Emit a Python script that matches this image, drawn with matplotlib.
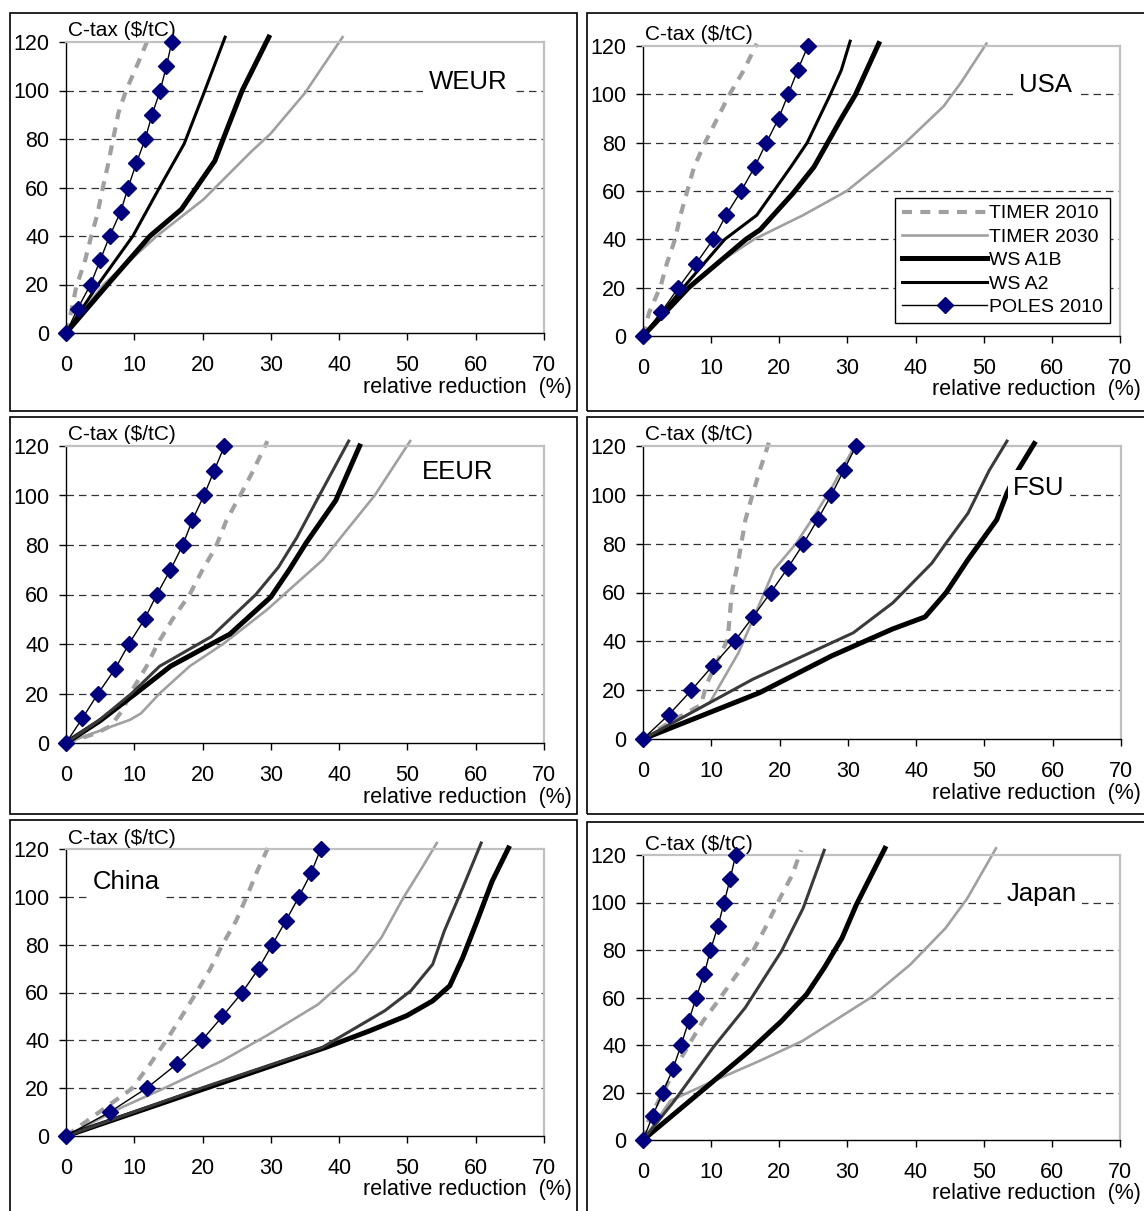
import matplotlib
matplotlib.use("Agg")
import matplotlib.pyplot as plt
from matplotlib.patches import Rectangle

plt.rcParams['font.family'] = ['Liberation Sans', 'DejaVu Sans']

W, H = 1144, 1211

series_names = ['TIMER 2010', 'TIMER 2030', 'WS A1B', 'WS A2', 'POLES 2010']
poles_tax = [0, 10, 20, 30, 40, 50, 60, 70, 80, 90, 100, 110, 120]
grid_levels = [20, 40, 60, 80, 100]

# (relative reduction %, C-tax $/tC) pairs
weur_t2010 = [(0, 0), (0.7, 8), (1.5, 19), (2.8, 30), (3.7, 40), (4.6, 49), (5.4, 60), (6.2, 70),
              (6.9, 80), (7.7, 91), (8.8, 100), (10.5, 111), (12.0, 121)]
weur_t2030 = [(0, 0), (5.5, 20), (13.3, 40), (20.1, 55), (27.2, 75), (29.9, 82), (35.0, 99), (40.5, 122)]
weur_a1b = [(0, 0), (6.1, 20), (12.3, 40), (16.9, 51), (19.1, 60), (21.8, 71), (23.3, 82), (25.8, 100), (29.7, 122)]
weur_a2 = [(0, 0), (4.7, 20), (9.8, 40), (13.7, 60), (17.3, 78), (20.2, 99), (23.3, 122)]
weur_poles = [0, 1.7, 3.6, 5.0, 6.4, 8.0, 9.1, 10.3, 11.6, 12.6, 13.8, 14.7, 15.5]

usa_t2010 = [(0, 0), (0.9, 9.7), (2.6, 20.7), (3.5, 30), (4.7, 40), (5.5, 50), (6.4, 59), (7.5, 70),
             (9.1, 80), (10.9, 90), (12.7, 100), (14.8, 110), (16.7, 121)]
usa_t2030 = [(0, 0), (6.7, 20), (10.9, 30), (16.3, 40), (23.5, 50), (29.9, 60), (34.3, 70), (38.5, 80),
             (44.1, 95), (46.7, 105), (50.4, 121)]
usa_a1b = [(0, 0), (6.7, 20), (15.1, 40), (17.2, 44), (22.0, 59), (25.1, 70), (29.1, 90), (31.2, 100), (34.6, 121)]
usa_a2 = [(0, 0), (5.9, 20), (12.0, 40), (16.7, 50), (21.7, 70), (24.1, 80), (27.5, 100), (29.1, 110), (30.4, 122)]
usa_poles = [0, 2.7, 5.2, 7.8, 10.3, 12.2, 14.4, 16.4, 18.1, 19.9, 21.3, 22.7, 24.2]

eeur_t2010 = [(0, 0), (4.5, 4), (6.6, 7), (8.3, 13.4), (9.4, 20), (11.8, 31), (13.4, 40), (15.6, 50),
              (18.1, 60), (20.0, 70), (21.9, 79), (23.5, 90), (25.7, 101), (27.4, 110), (29.5, 122)]
eeur_t2030 = [(0, 0), (5, 5), (9.4, 9.4), (11.0, 12), (13.7, 20), (18.1, 31), (23.0, 40), (29.5, 54),
              (37.6, 74), (45.2, 100), (50.4, 122)]
eeur_a1b = [(0, 0), (5, 9), (10.2, 20), (15.3, 31), (21.3, 40), (24.0, 44), (30.0, 59), (32.7, 70),
            (35.2, 81), (39.5, 98), (43.0, 120)]
eeur_a2 = [(0, 0), (5, 9.5), (9.6, 20), (13.7, 31), (21.3, 43), (27.8, 60), (31.1, 71), (33.8, 83),
           (37.1, 100), (41.4, 122)]
eeur_poles = [0, 2.4, 4.7, 7.2, 9.2, 11.5, 13.3, 15.3, 17.1, 18.5, 20.2, 21.7, 23.2]

fsu_t2010 = [(0, 0), (4, 7), (8.5, 14), (9.3, 22.4), (12.4, 40.8), (13.0, 59.9), (14.0, 73.5),
             (15.0, 89.8), (16.1, 100.7), (17.1, 110), (18.5, 122)]
fsu_t2030 = [(0, 0), (9.8, 15), (14.0, 35.4), (16.1, 49), (19.2, 69.4), (22.4, 80), (25.0, 91),
             (27.6, 102.7), (31.0, 120)]
fsu_a1b = [(0, 0), (17.1, 19), (27.6, 34), (36.5, 45), (41.3, 50), (44.4, 60), (47.6, 73.5),
           (51.8, 89.8), (53.3, 100.7), (54.9, 110), (57.3, 121)]
fsu_a2 = [(0, 0), (16.1, 24.5), (30.8, 43.5), (36.6, 55.8), (42.3, 72), (44.4, 80.3), (47.6, 92.5),
          (50.7, 110), (53.3, 122)]
fsu_poles = [0, 3.8, 7.1, 10.2, 13.4, 16.1, 18.7, 21.2, 23.5, 25.6, 27.6, 29.4, 31.2]

china_t2010 = [(0, 0), (9.6, 19.7), (12.3, 30), (14.7, 40), (17.0, 50.3), (19.1, 60), (21.1, 69.7),
               (22.9, 80), (24.9, 89.9), (26.6, 101), (28.1, 111.4), (29.8, 121.8)]
china_t2030 = [(0, 0), (8.2, 12), (14.7, 20.4), (22.9, 31.5), (29.4, 42), (36.9, 55), (42.4, 69),
               (46.2, 83), (49.4, 99.6), (52.1, 112), (54.3, 122.5)]
china_a1b = [(0, 0), (20.2, 19.7), (38.0, 37), (44.5, 44), (49.9, 50.3), (53.7, 56.5), (56.2, 62.8),
             (58.1, 74.6), (60.2, 89.9), (62.4, 106.5), (64.8, 120.4)]
china_a2 = [(0, 0), (20.2, 20.4), (37.5, 37), (46.7, 52.4), (50.5, 60.7), (53.7, 71.8), (55.4, 85.7),
            (58.1, 103.8), (60.8, 122.5)]
china_poles = [0, 6.4, 11.8, 16.2, 19.9, 22.9, 25.8, 28.2, 30.2, 32.2, 34.1, 35.9, 37.3]

japan_t2010 = [(0, 0), (0.9, 8.8), (5.1, 32), (6.7, 40), (8.8, 50), (11.0, 58.5), (13.6, 69),
               (16.1, 79.4), (18.2, 90.7), (20.1, 101.8), (21.9, 111.6), (23.2, 122)]
japan_t2030 = [(0, 0), (4.0, 16.5), (9.3, 23.5), (17.1, 33.3), (23.4, 41.7), (33.4, 59.9), (39.2, 73.8),
               (44.4, 89.2), (47.6, 101.8), (51.8, 122.8)]
japan_a1b = [(0, 0), (9.8, 23.5), (15.6, 37.5), (20.3, 50), (24.0, 61.3), (26.6, 72.5), (29.2, 85),
             (31.3, 99), (35.5, 122.8)]
japan_a2 = [(0, 0), (4.6, 16.5), (10.3, 39), (15.0, 55.7), (20.3, 79.4), (23.5, 97.6), (26.6, 122)]
japan_poles = [0, 1.4, 2.9, 4.4, 5.6, 6.7, 7.8, 9.0, 9.9, 11.0, 11.9, 12.8, 13.6]

fig = plt.figure(figsize=(W / 100, H / 100), dpi=100)
fig.patch.set_facecolor('white')

# outer frames round each panel (pixels: left, top, right, bottom)
frames = [(10, 13, 577, 411), (587, 13, 1150, 411), (10, 417, 577, 814),
          (587, 417, 1150, 814), (10, 820, 577, 1215), (587, 822, 1150, 1215)]
for l, t, r, b in frames:
    fig.add_artist(Rectangle((l / W, 1 - b / H), (r - l) / W, (b - t) / H, transform=fig.transFigure,
                             fill=False, edgecolor='black', linewidth=1.2))


def panel(box, name, t2010, t2030, a1b, a2, poles, label_xy, a2_color, xlab_dx=28, legend=False):
    l, t, r, b = box
    ax = fig.add_axes([l / W, 1 - b / H, (r - l) / W, (b - t) / H])
    ax.set_xlim(0, 70)
    ax.set_ylim(0, 120)
    ax.set_xticks(range(0, 71, 10))
    ax.set_yticks(range(0, 121, 20))
    ax.tick_params(direction='out', length=5, width=1, labelsize=15.5)
    ax.tick_params(axis='x', pad=11)
    ax.tick_params(axis='y', pad=7)
    for s in ['left', 'bottom']:
        ax.spines[s].set_color('black')
        ax.spines[s].set_linewidth(1)
    for s in ['top', 'right']:
        ax.spines[s].set_color('#c0c0c0')
        ax.spines[s].set_linewidth(1.6)
    for g in grid_levels:
        ax.axhline(g, color='#333333', lw=0.9, ls=(0, (6, 4)), zorder=0)

    lines = []
    x, y = zip(*t2010)
    lines += ax.plot(x, y, color='#a0a0a0', lw=3.0, dashes=(2.4, 2.0), clip_on=False, zorder=2)
    x, y = zip(*t2030)
    lines += ax.plot(x, y, color='#a0a0a0', lw=1.9, clip_on=False, zorder=2)
    x, y = zip(*a1b)
    lines += ax.plot(x, y, color='black', lw=3.6, clip_on=False, zorder=3)
    x, y = zip(*a2)
    lines += ax.plot(x, y, color=a2_color, lw=2.2, clip_on=False, zorder=3)
    lines += ax.plot(poles, poles_tax, color='black', lw=1, marker='D', ms=8,
                     mfc='#000080', mec='#000080', clip_on=False, zorder=4)

    ax.text(label_xy[0], label_xy[1], name, fontsize=18.5, ha='center', va='center', zorder=10,
            bbox=dict(facecolor='white', edgecolor='none', pad=4))
    ax.annotate('C-tax ($/tC)', xy=(0, 1), xycoords='axes fraction', xytext=(2, 11),
                textcoords='offset pixels', ha='left', va='center', fontsize=15)
    ax.annotate('relative reduction  (%)', xy=(1, 0), xycoords='axes fraction', xytext=(xlab_dx, -54),
                textcoords='offset pixels', ha='right', va='center', fontsize=15.5)

    if legend:
        leg = ax.legend(lines, series_names, loc='lower right', bbox_to_anchor=(0.979, 0.045),
                        fontsize=14, frameon=True, fancybox=False, framealpha=1, edgecolor='black',
                        handlelength=4.4, handletextpad=0.1, labelspacing=0.3, borderpad=0.35,
                        borderaxespad=0, numpoints=1)
        leg.get_frame().set_linewidth(1)
        leg.set_zorder(20)
    return ax


panel((66, 42, 544, 333), 'WEUR', weur_t2010, weur_t2030, weur_a1b, weur_a2, weur_poles,
      (58.9, 103.5), 'black')
panel((643, 46, 1120, 336), 'USA', usa_t2010, usa_t2030, usa_a1b, usa_a2, usa_poles,
      (59, 104), 'black', xlab_dx=21, legend=True)
panel((66, 446, 544, 743), 'EEUR', eeur_t2010, eeur_t2030, eeur_a1b, eeur_a2, eeur_poles,
      (57.3, 109.5), '#3a3a3a')
panel((643, 446, 1121, 739), 'FSU', fsu_t2010, fsu_t2030, fsu_a1b, fsu_a2, fsu_poles,
      (58, 103), '#3a3a3a', xlab_dx=20)
panel((66, 849, 544, 1136), 'China', china_t2010, china_t2030, china_a1b, china_a2, china_poles,
      (8.8, 106), '#3a3a3a')
panel((643, 855, 1120, 1140), 'Japan', japan_t2010, japan_t2030, japan_a1b, japan_a2, japan_poles,
      (58.5, 103.5), '#3a3a3a', xlab_dx=21)

fig.savefig('out.png', dpi=100)
